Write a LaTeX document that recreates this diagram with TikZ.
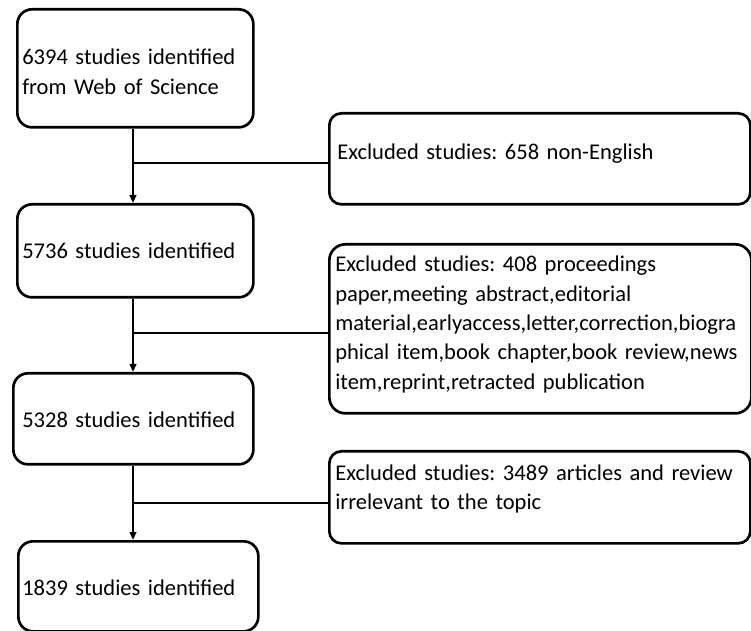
\documentclass[tikz,border=0pt]{standalone}
\usepackage{fontspec}
\setmainfont{Carlito}
\usetikzlibrary{arrows.meta}
\frenchspacing
\begin{document}
\begin{tikzpicture}[x=0.75pt,y=-0.75pt,
  box/.style={draw=black,line width=2pt,rounded corners=11pt,inner sep=0pt,anchor=north west,fill=white},
  exbox/.style={box,rounded corners=9pt},
  txt/.style={inner sep=0pt,anchor=base west,align=left,text width=420pt,font=\fontsize{16.9pt}{22pt}\selectfont\frenchspacing},
  conn/.style={line width=1.6pt,draw=black},
  arr/.style={conn,-{Triangle[length=6pt,width=5pt]}}]
\useasboundingbox (0,0) rectangle (751,631);
% left boxes
\node[box,minimum width=177pt,minimum height=88.5pt] (b1) at (16,8) {};
\node[box,minimum width=177pt,minimum height=69.75pt] (b2) at (16,203) {};
\node[box,minimum width=180pt,minimum height=68.25pt] (b3) at (12,372) {};
\node[box,minimum width=180pt,minimum height=67.5pt] (b4) at (17,540) {};
% right boxes
\node[exbox,minimum width=315.75pt,minimum height=68.25pt] (ea) at (328,112) {};
\node[exbox,minimum width=316.5pt,minimum height=126.75pt,rounded corners=12pt] (eb) at (328,243) {};
\node[exbox,minimum width=315.75pt,minimum height=69pt] (ec) at (328,450) {};
% texts
\node[txt] (t1) at (22,65) {6394 studies identified\\from Web of Science};
\node[txt] (t2) at (22,259) {5736 studies identified};
\node[txt] (t3) at (22,427) {5328 studies identified};
\node[txt] (t4) at (22,595) {1839 studies identified};
\node[txt] (ta) at (337,160) {Excluded studies: 658 non-English};
\node[txt] (tb) at (335,272) {Excluded studies: 408 proceedings\\paper,meeting abstract,editorial\\material,earlyaccess,letter,correction,biogra\\phical item,book chapter,book review,news\\item,reprint,retracted publication};
\node[txt] (tc) at (335,480) {Excluded studies: 3489 articles and review\\irrelevant to the topic};
% connectors
\coordinate (v) at (133,0);
\coordinate (j1) at (133,163);
\coordinate (j2) at (133,333);
\coordinate (j3) at (133,503);
\draw[arr] (b1.south -| v) -- (b2.north -| v);
\draw[arr] (b2.south -| v) -- (b3.north -| v);
\draw[arr] (b3.south -| v) -- (b4.north -| v);
\draw[conn] (j1) -- (j1 -| ea.west);
\draw[conn] (j2) -- (j2 -| eb.west);
\draw[conn] (j3) -- (j3 -| ec.west);
\end{tikzpicture}
\end{document}
